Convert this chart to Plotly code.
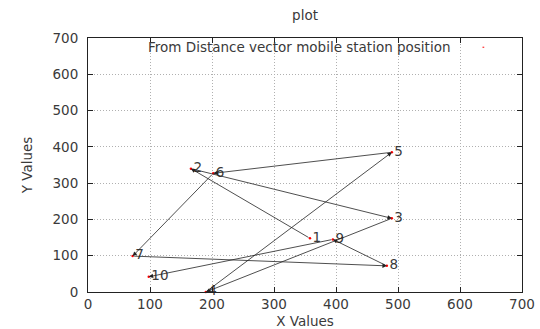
import plotly.graph_objects as go

# Mobile station positions (point number, x, y)
point_ids = ["1", "2", "3", "4", "5", "6", "7", "8", "9", "10"]
x_vals = [358, 166, 490, 190, 490, 202, 72, 482, 395, 98]
y_vals = [148, 340, 203, 0, 385, 327, 99, 72, 145, 42]

x_ticks = [0, 100, 200, 300, 400, 500, 600, 700]
y_ticks = [0, 100, 200, 300, 400, 500, 600, 700]

key_text = "From Distance vector mobile station position"
text_color = "#3a3a3a"
font_family = "DejaVu Sans"
fs = 13.5

fig = go.Figure()

# red dots at each position
fig.add_trace(go.Scatter(
    x=x_vals, y=y_vals, mode="markers+text",
    marker=dict(color="red", size=2.5),
    text=point_ids, textposition="middle right",
    textfont=dict(family=font_family, size=fs, color=text_color),
    showlegend=False, hoverinfo="skip", cliponaxis=False,
))

# vectors from point i to point i+1
annotations = []
for i in range(len(x_vals) - 1):
    annotations.append(dict(
        x=x_vals[i + 1], y=y_vals[i + 1], ax=x_vals[i], ay=y_vals[i],
        xref="x", yref="y", axref="x", ayref="y",
        text="", showarrow=True, arrowhead=2, arrowsize=1.1, arrowwidth=0.8,
        arrowcolor="#222222", standoff=0, startstandoff=0,
    ))

# key
annotations.append(dict(
    x=0.838, y=0.9637, xref="paper", yref="paper", xanchor="right", yanchor="middle",
    text=key_text, showarrow=False,
    font=dict(family=font_family, size=fs, color=text_color),
))

fig.update_layout(
    width=540, height=329,
    margin=dict(l=88, r=18, t=38, b=37, autoexpand=False),
    paper_bgcolor="white", plot_bgcolor="white",
    font=dict(family=font_family, size=fs, color=text_color),
    title=dict(text="plot", x=0.5, xref="paper", y=1 - 15 / 329, yanchor="middle",
               font=dict(family=font_family, size=fs, color=text_color)),
    annotations=annotations,
    shapes=[dict(type="line", xref="paper", yref="paper", x0=0.909, x1=0.913,
                 y0=0.9637, y1=0.9637, line=dict(color="red", width=1))],
    showlegend=False,
)

axis_common = dict(
    showline=True, linecolor="#222222", linewidth=1, mirror="allticks",
    ticks="inside", ticklen=5, tickcolor="#222222",
    showgrid=True, gridcolor="#b0b0b0", griddash="1px,2px", gridwidth=1,
    zeroline=False, automargin=False,
    tickfont=dict(family=font_family, size=fs, color=text_color),
)

fig.update_xaxes(range=[0, 700], tickvals=x_ticks, ticktext=[str(v) for v in x_ticks],
                 title=dict(text="X Values", standoff=12,
                            font=dict(family=font_family, size=fs, color=text_color)),
                 **axis_common)
fig.update_yaxes(range=[0, 700], tickvals=y_ticks, ticktext=[str(v) for v in y_ticks],
                 ticklabelstandoff=6,
                 title=dict(text="Y Values", standoff=16,
                            font=dict(family=font_family, size=fs, color=text_color)),
                 **axis_common)

fig.write_html("out.html")
